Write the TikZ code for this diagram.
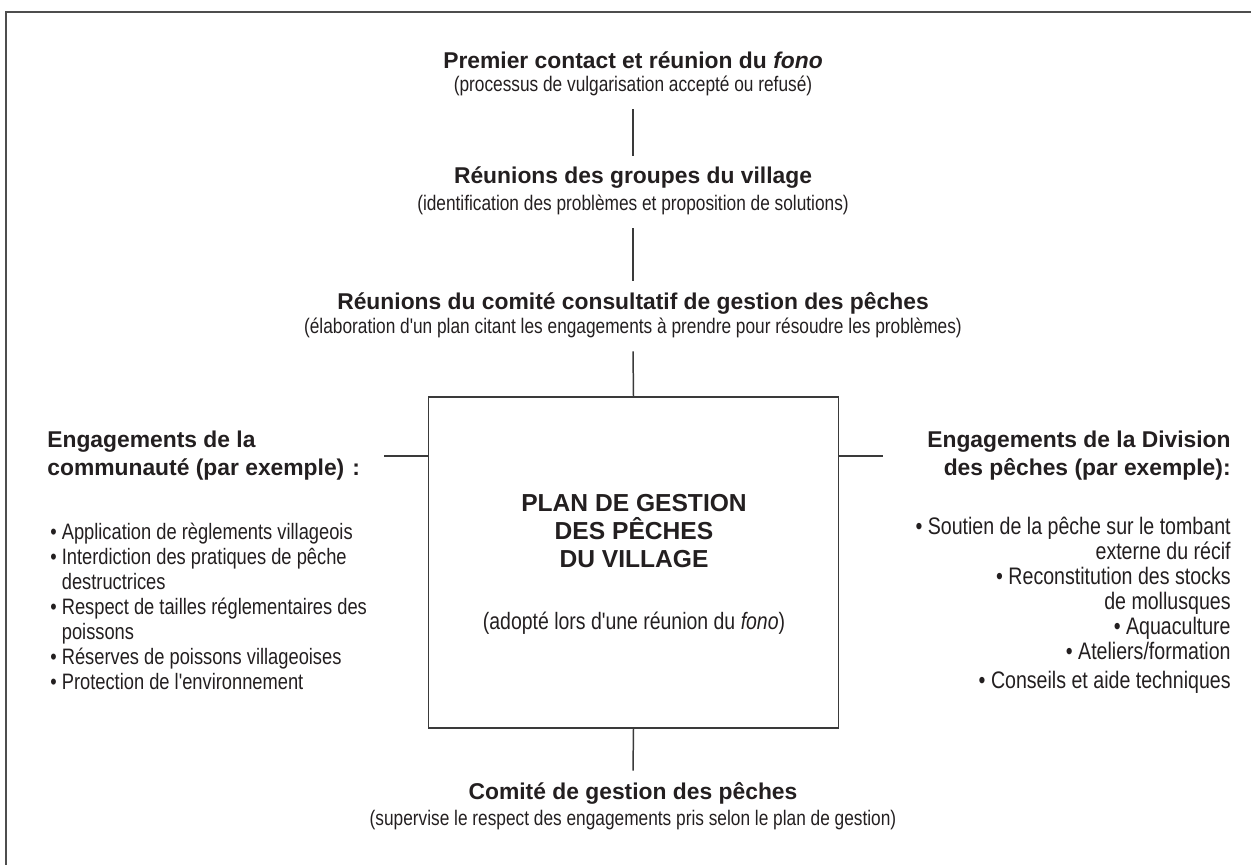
\documentclass[tikz,border=0pt]{standalone}
\usepackage{fontspec}
\setmainfont{Liberation Sans}
\newfontfamily\etroit{Liberation Sans}[FakeStretch=0.82]
\usepackage{tikz}

\definecolor{encre}{HTML}{231F20}
\definecolor{trait}{HTML}{3A3A3A}

\tikzset{
	titre/.style={font=\bfseries\fontsize{13}{15.9}\selectfont, text=encre, inner xsep=0pt, inner ysep=0.22cm},
	sous/.style={font=\etroit\fontsize{12}{14.2}\selectfont, text=encre, inner xsep=0pt, inner ysep=0.26cm},
	liste/.style={text=encre, inner sep=0pt},
	lien/.style={draw=trait, line width=0.85pt},
	boite/.style={draw=trait, line width=0.85pt, minimum width=8.2cm, minimum height=6.62cm, inner sep=0pt}
}

\begin{document}
\begin{tikzpicture}[x=0.02cm, y=-0.02cm]
	\useasboundingbox (0,0) rectangle (1251,865);
	% cadre
	\draw[draw=trait!90, line width=1.1pt] (6,865) -- (6,12) -- (1251,12);
	% etapes
	\node[titre] (t1) at (633,60) {Premier contact et réunion du \textit{fono}};
	\node[sous] (s1) at (633,86) {(processus de vulgarisation accepté ou refusé)};
	\node[titre] (t2) at (633,178) {Réunions des groupes du village};
	\node[sous] (s2) at (633,205) {(identification des problèmes et proposition de solutions)};
	\node[titre] (t3) at (633,303) {Réunions du comité consultatif de gestion des pêches};
	\node[sous] (s3) at (633,328) {(élaboration d'un plan citant les engagements à prendre pour résoudre les problèmes)};
	% plan
	\node[boite] (plan) at (633.5,562.5) {};
	\node[font=\bfseries\fontsize{14}{16.2}\selectfont, text=encre, align=center, inner sep=0pt] (plantitre) at (634,531) {PLAN DE GESTION\\DES PÊCHES\\DU VILLAGE};
	\node[sous, font=\etroit\fontsize{13.5}{15}\selectfont] (adopte) at (634,623) {(adopté lors d'une réunion du \textit{fono})};
	\node[titre] (t4) at (633,793) {Comité de gestion des pêches};
	\node[sous] (s4) at (633,820) {(supervise le respect des engagements pris selon le plan de gestion)};
	% engagements
	\node[titre, anchor=west, align=left, inner sep=0pt] (gauche) at (47,456) {Engagements de la\\communauté (par exemple)\hspace{0.08em} :};
	\node[titre, anchor=east, align=right, inner sep=0pt] (droite) at (1231,456) {Engagements de la Division\\des pêches (par exemple):};
	\node[liste, font=\etroit\fontsize{12.7}{14.2}\selectfont, anchor=north west, align=left] (listeg) at (50,523) {• Application de règlements villageois\\
		• Interdiction des pratiques de pêche\\
		\phantom{• }destructrices\\
		• Respect de tailles réglementaires des\\
		\phantom{• }poissons\\
		• Réserves de poissons villageoises\\
		• Protection de l'environnement};
	\node[liste, font=\etroit\fontsize{13.6}{14.2}\selectfont, anchor=north east, align=right] (listed) at (1231,517) {• Soutien de la pêche sur le tombant\\
		externe du récif\\
		• Reconstitution des stocks\\
		de mollusques\\
		• Aquaculture\\
		• Ateliers/formation\\[2.3pt]
		• Conseils et aide techniques};
	% liens
	\coordinate (gbout) at (384,456);
	\coordinate (dbout) at (883,456);
	\draw[lien] (s1.south) -- (t2.north);
	\draw[lien] (s2.south) -- (t3.north);
	\draw[lien] (s3.south) -- (plan.north);
	\draw[lien] (plan.south) -- (t4.north);
	\draw[lien] (gbout) -- (gbout -| plan.west);
	\draw[lien] (plan.east |- dbout) -- (dbout);
\end{tikzpicture}
\end{document}
